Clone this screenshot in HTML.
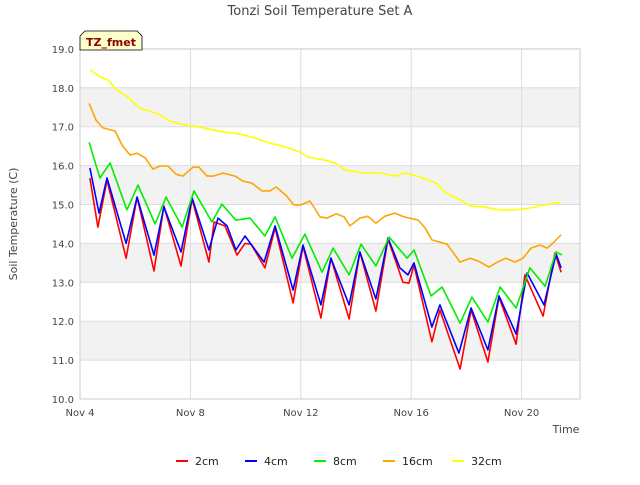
<!DOCTYPE html>
<html><head><meta charset="utf-8"><style>
body{margin:0;background:#fff;font-family:"Liberation Sans","DejaVu Sans",sans-serif}
svg text{font-family:"DejaVu Sans","Liberation Sans",sans-serif}
</style></head><body>
<svg id="c" width="640" height="480" xmlns="http://www.w3.org/2000/svg">
<text x="320" y="15" text-anchor="middle" font-size="13" fill="#444">Tonzi Soil Temperature Set A</text>
<g id="bands"></g><g id="grid"></g>
<rect x="80" y="49" width="500" height="350" fill="none" stroke="#ccc"/>
<g id="ticks"></g><g id="lines"></g>
<text transform="translate(17,224) rotate(-90)" text-anchor="middle" font-size="11" fill="#444">Soil Temperature (C)</text>
<text x="566" y="433" text-anchor="middle" font-size="11" fill="#444">Time</text>
<g><path d="M80,50 L80,36 L85,31 L137,31 L142,36 L142,50 Z" fill="#ffffcc" stroke="#000" stroke-width="0.8"/>
<text x="111" y="46" text-anchor="middle" font-size="11" font-weight="bold" fill="#8b0000">TZ_fmet</text></g>
<g id="legend"></g>
</svg>
<script>
const yTicks=[10,11,12,13,14,15,16,17,18,19];
const xTickDays=[0,4,8,12,16];
const xTickLabels=["Nov 4","Nov 8","Nov 12","Nov 16","Nov 20"];
const seriesNames=["2cm","4cm","8cm","16cm","32cm"];
const seriesColors=["#ff0000","#0000ff","#00ee00","#ffa500","#ffff00"];
const d2=[0.36,0.65,0.98,1.67,2.07,2.68,3.04,3.66,4.06,4.67,4.86,5.25,5.69,5.98,6.2,6.7,7.07,7.72,8.08,8.73,9.09,9.75,10.14,10.72,11.16,11.45,11.7,11.92,12.1,12.75,13.04,13.77,14.17,14.78,15.18,15.8,16.12,16.78,17.21,17.43];
const v2=[15.68,14.42,15.63,13.62,15.19,13.29,14.96,13.42,15.14,13.52,14.55,14.45,13.7,14.0,13.98,13.37,14.4,12.47,13.93,12.08,13.62,12.06,13.78,12.26,14.11,13.52,13.0,12.98,13.44,11.47,12.29,10.77,12.29,10.95,12.62,11.41,13.19,12.13,13.75,13.26];
const d4=[0.36,0.69,0.98,1.67,2.07,2.68,3.04,3.66,4.06,4.67,5.0,5.33,5.65,5.98,6.67,7.07,7.72,8.08,8.73,9.09,9.75,10.14,10.72,11.16,11.59,11.88,12.1,12.75,13.04,13.73,14.17,14.78,15.18,15.8,16.2,16.81,17.25,17.43];
const v4=[15.94,14.78,15.68,14.0,15.19,13.7,14.94,13.78,15.17,13.83,14.65,14.45,13.83,14.19,13.52,14.45,12.8,13.96,12.42,13.62,12.42,13.78,12.57,14.14,13.37,13.19,13.5,11.85,12.42,11.18,12.34,11.26,12.65,11.67,13.24,12.42,13.73,13.37];
const d8=[0.33,0.72,1.09,1.7,2.1,2.72,3.12,3.7,4.13,4.78,5.14,5.65,6.16,6.7,7.07,7.68,8.15,8.77,9.17,9.75,10.18,10.72,11.2,11.85,12.1,12.72,13.12,13.77,14.2,14.78,15.22,15.8,16.3,16.85,17.25,17.46];
const v8=[16.6,15.68,16.07,14.86,15.5,14.5,15.19,14.42,15.35,14.55,15.01,14.6,14.65,14.19,14.68,13.62,14.24,13.26,13.88,13.19,13.98,13.42,14.16,13.62,13.83,12.65,12.88,11.95,12.62,11.98,12.88,12.34,13.37,12.9,13.78,13.7];
const d16=[0.33,0.58,0.83,1.27,1.52,1.81,2.07,2.36,2.64,2.9,3.19,3.48,3.73,4.09,4.31,4.6,4.82,5.18,5.62,5.91,6.23,6.59,6.88,7.1,7.46,7.75,8.01,8.33,8.7,8.95,9.28,9.57,9.78,10.14,10.43,10.72,11.05,11.41,11.74,12.25,12.5,12.75,13.3,13.77,14.13,14.42,14.82,15.07,15.43,15.76,16.05,16.34,16.67,16.92,17.14,17.43];
const v16=[17.6,17.17,16.97,16.89,16.53,16.27,16.32,16.2,15.91,15.99,15.99,15.78,15.73,15.96,15.96,15.73,15.73,15.81,15.73,15.6,15.55,15.35,15.35,15.45,15.24,14.99,14.99,15.09,14.68,14.65,14.76,14.68,14.45,14.65,14.7,14.52,14.7,14.78,14.68,14.6,14.4,14.09,13.98,13.52,13.62,13.55,13.39,13.5,13.62,13.52,13.62,13.88,13.96,13.88,14.01,14.22];
const d32=[0.36,0.72,1.01,1.34,1.74,2.14,2.54,2.9,3.19,3.62,3.99,4.35,4.78,5.25,5.8,6.34,6.88,7.43,7.97,8.26,8.88,9.24,9.6,10.0,10.33,10.87,11.41,11.78,12.32,12.9,13.22,13.77,14.13,14.57,15.22,15.76,16.3,16.85,17.21,17.43];
const v32=[18.46,18.28,18.2,17.94,17.76,17.48,17.4,17.3,17.17,17.07,17.02,16.99,16.92,16.86,16.81,16.71,16.58,16.48,16.35,16.22,16.14,16.07,15.89,15.84,15.81,15.81,15.73,15.81,15.71,15.55,15.32,15.12,14.96,14.94,14.86,14.86,14.91,14.99,15.04,15.04];
const allDays=[d2,d4,d8,d16,d32], allVals=[v2,v4,v8,v16,v32];
const NS="http://www.w3.org/2000/svg";
const X=d=>80+d*27.6, Y=v=>399-(v-10)*38.9;
function mk(t,a,p){const e=document.createElementNS(NS,t);for(const k in a)e.setAttribute(k,a[k]);p.appendChild(e);return e;}
const bands=document.getElementById('bands'),grid=document.getElementById('grid'),ticks=document.getElementById('ticks');
for(let i=0;i<yTicks.length-1;i++){if(i%2===1){const r=mk('rect',{x:80,y:Y(yTicks[i+1]),width:500,height:Y(yTicks[i])-Y(yTicks[i+1]),fill:'#f2f2f2'},bands);

}}
yTicks.forEach(v=>{const l=mk('line',{x1:80,x2:580,y1:Y(v),y2:Y(v),stroke:'#dcdcdc'},grid);


const t=mk('text',{x:74,y:Y(v)+4,'text-anchor':'end','font-size':10,fill:'#444'},ticks);t.textContent=v.toFixed(1);

});
xTickDays.forEach((d,i)=>{const l=mk('line',{x1:X(d),x2:X(d),y1:49,y2:399,stroke:'#dcdcdc'},grid);


const t=mk('text',{x:X(d),y:416,'text-anchor':'middle','font-size':10,fill:'#444'},ticks);t.textContent=xTickLabels[i];

});
const lines=document.getElementById('lines');
allDays.forEach((ds,s)=>{const p=ds.map((d,i)=>(i?'L':'M')+X(d).toFixed(1)+','+Y(allVals[s][i]).toFixed(1)).join(' ');
const e=mk('path',{d:p,fill:'none',stroke:seriesColors[s],'stroke-width':1.6,'stroke-linejoin':'round'},lines);

});
const lg=document.getElementById('legend');const lx=[176,245,314,383,452];
seriesNames.forEach((n,i)=>{const g=mk('g',{},lg);


mk('line',{x1:lx[i],x2:lx[i]+12,y1:461,y2:461,stroke:seriesColors[i],'stroke-width':2},g);
const t=mk('text',{x:lx[i]+19,y:465,'font-size':11,fill:'#222'},g);t.textContent=n;});
</script>
</body></html>
